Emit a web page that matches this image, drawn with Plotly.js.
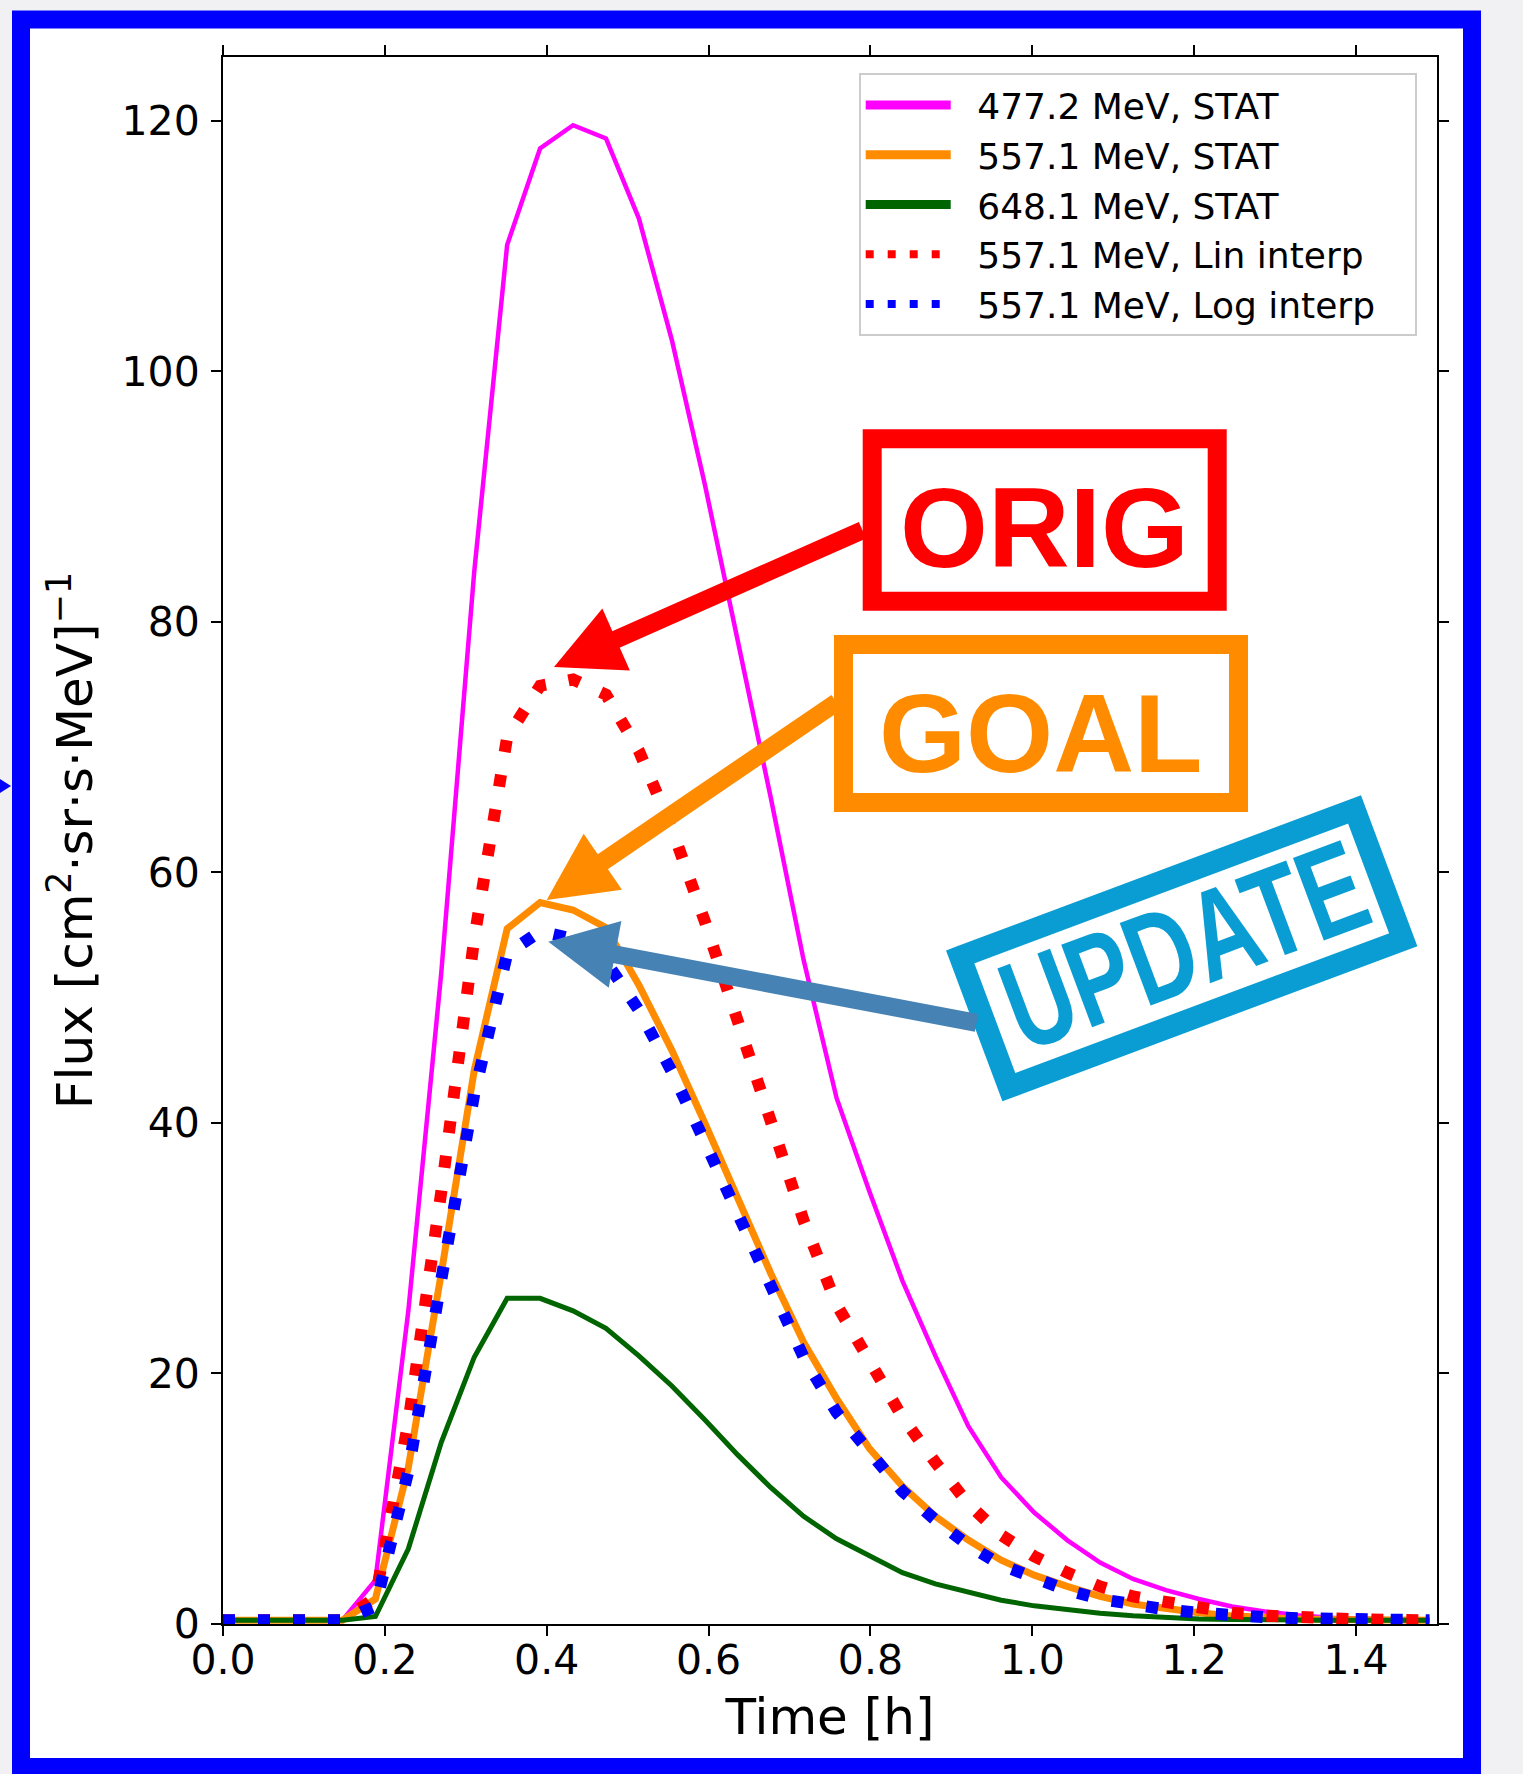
<!DOCTYPE html>
<html>
<head>
<meta charset="utf-8">
<script src="https://cdn.plot.ly/plotly-3.0.1.min.js"></script>
<style>
html, body { margin: 0; padding: 0; background: #f1f1f3; }
#chart { width: 1523px; height: 1774px; }
</style>
</head>
<body>
<div id="chart"></div>
<script>
// ---- data ----
const timeH = [0, 0.0255, 0.0662, 0.1069, 0.1476, 0.1883, 0.2290, 0.2697, 0.3104, 0.3511,
  0.3918, 0.4325, 0.4732, 0.5139, 0.5546, 0.5953, 0.6360, 0.6767, 0.7174, 0.7581,
  0.7988, 0.8395, 0.8802, 0.9209, 0.9616, 1.0023, 1.0430, 1.0837, 1.1244, 1.1651,
  1.2058, 1.2465, 1.2872, 1.3279, 1.3686, 1.4093, 1.4500, 1.4907];

const flux477Stat = [0.3, 0.3, 0.3, 0.3, 0.3, 3.5, 25, 52, 84, 110.1,
  117.8, 119.65, 118.6, 112.2, 102.5, 91, 78.5, 66, 53, 42,
  34.5, 27.4, 21.4, 15.8, 11.7, 8.9, 6.7, 4.9, 3.6, 2.7,
  2.0, 1.4, 1.0, 0.7, 0.5, 0.4, 0.35, 0.3];

const flux557Stat = [0.3, 0.3, 0.3, 0.3, 0.3, 2.0, 12.5, 28, 44.2, 55.5,
  57.6, 57.0, 55.6, 51.0, 45.8, 40.0, 34.0, 28.0, 22.5, 18.0,
  14.0, 11.0, 8.6, 6.7, 5.1, 3.9, 3.0, 2.2, 1.6, 1.2,
  0.9, 0.65, 0.5, 0.4, 0.35, 0.32, 0.3, 0.3];

const flux648Stat = [0.3, 0.3, 0.3, 0.3, 0.3, 0.6, 6.0, 14.5, 21.3, 26.0,
  26.0, 25.0, 23.6, 21.4, 19.0, 16.3, 13.5, 10.9, 8.6, 6.8,
  5.4, 4.1, 3.2, 2.5, 1.9, 1.45, 1.1, 0.85, 0.65, 0.5,
  0.4, 0.35, 0.3, 0.3, 0.3, 0.3, 0.3, 0.3];

const flux557Lin = [0.3, 0.3, 0.3, 0.3, 0.3, 2.1, 16.1, 34.5, 54.7, 70.8,
  74.9, 75.4, 74.2, 69.7, 63.5, 56.1, 48.1, 40.2, 32.2, 25.5,
  20.9, 16.5, 12.9, 9.6, 7.1, 5.4, 4.1, 3.0, 2.2, 1.7,
  1.25, 0.9, 0.67, 0.51, 0.41, 0.36, 0.32, 0.3];

const flux557Log = [0.3, 0.3, 0.3, 0.3, 0.3, 1.4, 12.2, 27.5, 42.3, 53.5,
  55.3, 54.7, 52.9, 49.0, 44.1, 38.5, 32.6, 26.8, 21.3, 16.9,
  13.6, 10.6, 8.3, 6.3, 4.7, 3.6, 2.7, 2.0, 1.53, 1.16,
  0.9, 0.65, 0.55, 0.46, 0.38, 0.34, 0.31, 0.3];

const seriesNames = ['477.2 MeV, STAT', '557.1 MeV, STAT', '648.1 MeV, STAT',
  '557.1 MeV, Lin interp', '557.1 MeV, Log interp'];
const xTickVals = [0, 0.2, 0.4, 0.6, 0.8, 1.0, 1.2, 1.4];
const xTickText = ['0.0', '0.2', '0.4', '0.6', '0.8', '1.0', '1.2', '1.4'];
const yTickVals = [0, 20, 40, 60, 80, 100, 120];

// ---- page geometry (pixels) ----
const W = 1523, H = 1774;
const mL = 223, mR = 86, mT = 57, mB = 150;
const pw = W - mL - mR, ph = H - mT - mB;
const px = x => (x - mL) / pw;
const py = y => (H - mB - y) / ph;

const colors = ['#ff00ff', '#ff8c00', '#006400', '#ff0000', '#0000ff'];
const seriesY = [flux477Stat, flux557Stat, flux648Stat, flux557Lin, flux557Log];
const plotWidths = [4.5, 7, 5, 12, 12];
const plotDash = ['solid', 'solid', 'solid', '12px,23px', '12px,23px'];

const traces = [];
for (let i = 0; i < 5; i++) {
  traces.push({ x: timeH, y: seriesY[i], name: seriesNames[i], mode: 'lines',
    showlegend: false, line: { color: colors[i], width: plotWidths[i], dash: plotDash[i] } });
}
// legend entries (styled like the legend handles of the picture)
const gapTxt = '\u2002\u200a';
for (let i = 0; i < 5; i++) {
  traces.push({ x: [null], y: [null], mode: 'lines', showlegend: true,
    name: gapTxt + seriesNames[i] + (i === 4 ? '\u00a0\u00a0\u00a0' : ''),
    line: { color: colors[i], width: i < 3 ? 9 : 8, dash: i < 3 ? 'solid' : '8px,14px' } });
}

function arrow(tipX, tipY, tailX, tailY, color) {
  return {
    xref: 'paper', yref: 'paper', x: px(tipX), y: py(tipY),
    ax: tailX - tipX, ay: tailY - tipY,
    text: '', borderpad: 0,
    showarrow: true, arrowhead: 2, arrowsize: 0.755, arrowwidth: 18,
    arrowcolor: color, standoff: 0
  };
}

function label(cx, cy, text, color, fontSize, angle) {
  return {
    xref: 'paper', yref: 'paper', x: px(cx), y: py(cy),
    xanchor: 'center', yanchor: 'middle', showarrow: false,
    text: '<b>' + text + '</b>', textangle: angle || 0,
    font: { family: 'Liberation Sans, Arial, sans-serif', size: fontSize, color: color }
  };
}

// framed box (outer size, border width), optionally rotated, as a closed path in paper units
function framePath(cx, cy, outerW, outerH, bw, angleDeg) {
  const a = angleDeg * Math.PI / 180, c = Math.cos(a), s = Math.sin(a);
  const hw = (outerW - bw) / 2, hh = (outerH - bw) / 2;
  const pts = [[-hw, -hh], [hw, -hh], [hw, hh], [-hw, hh]].map(function (p) {
    return [cx + p[0] * c - p[1] * s, cy + p[0] * s + p[1] * c];
  });
  return pts.map(function (p, i) { return (i ? 'L' : 'M') + px(p[0]) + ',' + py(p[1]); }).join(' ') + ' Z';
}

const stampColor = '#0a9dd3';
const annotations = [
  arrow(554, 667, 863, 530, '#ff0000'),
  arrow(546.7, 900, 837, 702, '#ff8c00'),
  arrow(548.3, 941.7, 977, 1023, '#4682b4'),
  label(1044.7, 527.5, 'ORIG', '#ff0000', 113, 0),
  label(1041, 733.5, 'GOAL', '#ff8c00', 112, 0),
  label(1184, 946, 'UPDATE', stampColor, 128, -20.5)
];

const shapes = [
  { type: 'rect', xref: 'paper', yref: 'paper', layer: 'below',
    x0: px(21), x1: px(1472), y0: py(1767), y1: py(19.5),
    line: { color: '#0000ff', width: 18 }, fillcolor: '#ffffff' },
  { type: 'path', xref: 'paper', yref: 'paper', layer: 'below',
    path: 'M' + px(0) + ',' + py(779) + ' L' + px(11) + ',' + py(786) + ' L' + px(0) + ',' + py(793) + ' Z',
    line: { width: 0 }, fillcolor: '#0000ff' },
  { type: 'path', xref: 'paper', yref: 'paper', layer: 'above',
    path: framePath(1044.7, 520, 364, 181.4, 19, 0),
    line: { color: '#ff0000', width: 19 }, fillcolor: '#ffffff' },
  { type: 'path', xref: 'paper', yref: 'paper', layer: 'above',
    path: framePath(1041, 723.5, 414, 177, 19, 0),
    line: { color: '#ff8c00', width: 19 }, fillcolor: '#ffffff' },
  { type: 'path', xref: 'paper', yref: 'paper', layer: 'above',
    path: framePath(1181.7, 948.3, 443, 161, 22, -20.5),
    line: { color: stampColor, width: 22 }, fillcolor: '#ffffff' }
];

const axisCommon = {
  showgrid: false, zeroline: false, showline: true, linecolor: '#000000', linewidth: 2,
  mirror: 'ticks', ticks: 'outside', ticklen: 10, tickwidth: 2, tickcolor: '#000000',
  tickfont: { family: 'DejaVu Sans', size: 41, color: '#000000' }, automargin: false
};

const layout = {
  width: W, height: H,
  margin: { l: mL, r: mR, t: mT, b: mB, pad: 0 },
  paper_bgcolor: '#f1f1f3', plot_bgcolor: '#ffffff',
  font: { family: 'DejaVu Sans', color: '#000000' },
  showlegend: true,
  legend: {
    x: px(858.7), y: py(73), xanchor: 'left', yanchor: 'top',
    bgcolor: 'rgba(255,255,255,0.85)', bordercolor: '#cccccc', borderwidth: 2,
    font: { family: 'DejaVu Sans', size: 36, color: '#000000' },
    itemwidth: 85, tracegroupgap: 0
  },
  xaxis: Object.assign({}, axisCommon, {
    range: [0, 1.5], tickvals: xTickVals, ticktext: xTickText, ticklabelstandoff: -11,
    title: { text: 'Time [h]', font: { family: 'DejaVu Sans', size: 50, color: '#000000' }, standoff: 16 }
  }),
  yaxis: Object.assign({}, axisCommon, {
    range: [0, 125.1], tickvals: yTickVals, ticklabelstandoff: 3,
    title: { text: 'Flux [cm<sup>2</sup>·sr·s·MeV]<sup>−1</sup>',
             font: { family: 'DejaVu Sans', size: 50, color: '#000000' }, standoff: 13 }
  }),
  annotations: annotations,
  shapes: shapes,
  hovermode: false
};

Plotly.newPlot('chart', traces, layout, { displayModeBar: false, staticPlot: true }).then(function (gd) {
  // condense the stamp lettering (tall, narrow stamp font)
  gd.querySelectorAll('text.annotation-text').forEach(function (t) {
    if (t.textContent === 'UPDATE') {
      const bb = t.getBBox();
      const cx = bb.x + bb.width / 2, cy = bb.y + bb.height / 2;
      const prev = t.getAttribute('transform') || '';
      t.setAttribute('transform', prev + ' translate(' + cx + ',' + cy + ') scale(0.73,1) translate(' + (-cx) + ',' + (-cy) + ')');
    }
  });
});
</script>
</body>
</html>
